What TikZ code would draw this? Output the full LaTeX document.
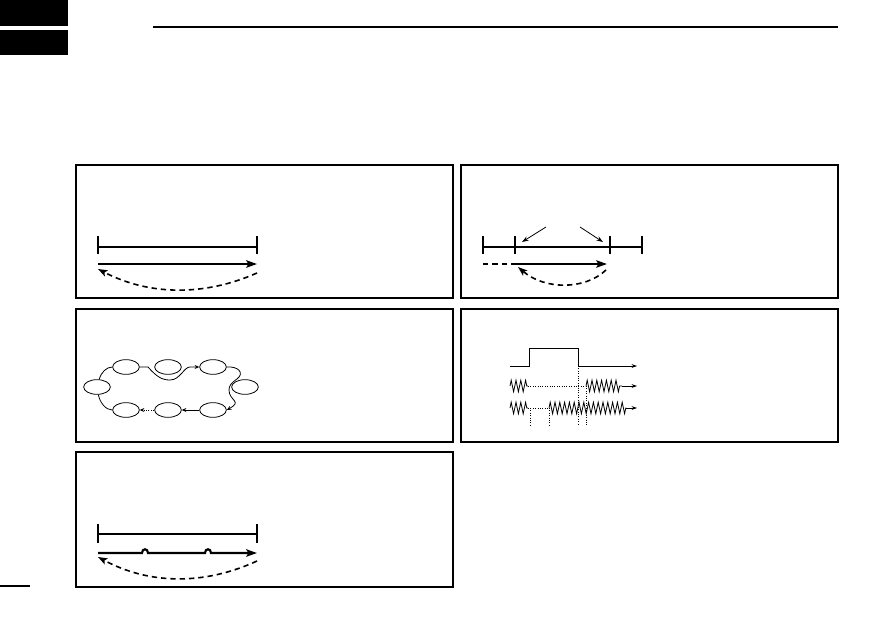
\documentclass[tikz,border=0pt]{standalone}
\usetikzlibrary{arrows.meta, shapes.geometric, decorations.pathmorphing}

\begin{document}
\begin{tikzpicture}[x=0.75pt, y=-0.75pt,
    frame/.style={draw=black, line width=0.8pt},
    bar/.style={line width=1.6pt},
    arr/.style={line width=1.6pt, -{Stealth[length=8pt, width=5.5pt, inset=1.5pt]}},
    back/.style={line width=1.2pt, dash pattern=on 4pt off 3pt,
                 -{Stealth[length=7pt, width=5pt, inset=1.5pt]}},
    pointer/.style={line width=0.6pt, -{Stealth[length=5pt, width=3.5pt]}},
    ch/.style={draw, ellipse, line width=0.6pt, minimum width=20pt,
               minimum height=11pt, inner sep=0pt},
    link/.style={line width=0.6pt},
    hop/.style={line width=0.6pt, -{Stealth[length=3.5pt, width=3pt]}},
    sig/.style={line width=0.6pt, -{Stealth[length=4pt, width=2.8pt]}},
    wave/.style={line width=0.6pt, decorate,
                 decoration={zigzag, segment length=3.6pt, amplitude=4.3pt}},
    dots/.style={line width=0.6pt, dash pattern=on 0.8pt off 1pt}
  ]
  \useasboundingbox (0,0) rectangle (893,629);

  % header marks
  \fill (0,0) rectangle (68,26);
  \fill (0,30) rectangle (68,55);
  \draw[line width=0.8pt] (153,27) -- (838,27);
  \draw[line width=0.8pt] (0,586) -- (30,586);

  % panel frames
  \foreach \x/\y/\w/\h in {76/165/453/298, 461/165/838/298,
                           76/309/453/442, 461/309/838/442,
                           76/452/453/587}
    \draw[frame] (\x,\y) rectangle (\w,\h);

  % panel 1
  \draw[bar] (98,247) -- (257,247);
  \foreach \x in {98,257}
    \draw[bar] (\x,236) -- (\x,254);
  \coordinate (s1) at (98,264);
  \coordinate (e1) at (257,264);
  \draw[arr] (s1) -- (e1);
  \coordinate (r1) at (257,273);
  \coordinate (q1) at (98,269);
  \draw[back] (r1) .. controls (205,296) and (150,296) .. (q1);

  % panel 2
  \draw[bar] (483,247) -- (642,247);
  \foreach \x in {483,515,642}
    \draw[line width=1pt] (\x,236) -- (\x,254);
  \draw[bar] (610,236) -- (610,254);
  \coordinate (m1) at (546,227);
  \coordinate (m2) at (580,227);
  \coordinate (n1) at (522,242);
  \coordinate (n2) at (603,242);
  \draw[pointer] (m1) -- (n1);
  \draw[pointer] (m2) -- (n2);
  \coordinate (s2) at (483,264);
  \coordinate (k2) at (515,264);
  \coordinate (e2) at (607,264);
  \draw[line width=1.2pt, dash pattern=on 4pt off 3pt] (s2) -- (k2);
  \draw[arr] (k2) -- (e2);
  \coordinate (r2) at (606,270);
  \coordinate (q2) at (518,267);
  \draw[back] (r2) .. controls (585,290) and (545,290) .. (q2);

  % panel 3
  \node[ch] (mL) at (97,387) {};
  \node[ch] (t1) at (126,367) {};
  \node[ch] (t2) at (168,367) {};
  \node[ch] (t3) at (213,367) {};
  \node[ch] (mR) at (245,387) {};
  \node[ch] (b3) at (213,410) {};
  \node[ch] (b2) at (168,410) {};
  \node[ch] (b1) at (126,410) {};
  \draw[link] (mL.75) .. controls (101,373) and (106,367) .. (t1.west);
  \draw[hop] (t1.east) -- (148,367)
    .. controls (157,377) and (162,380) .. (170,380)
    .. controls (180,380) and (184,367) .. (190,367) -- (t3.west);
  \draw[hop] (t3.east) .. controls (238,366) and (245,373) .. (237,379)
    .. controls (231,383) and (229,386) .. (229,390)
    .. controls (229,401) and (243,401) .. (b3.east);
  \draw[hop] (b3.west) -- (b2.east);
  \draw[hop, dots] (b2.west) -- (b1.east);
  \draw[link] (b1.west) .. controls (106,410) and (100,403) .. (mL.280);

  % panel 4
  \draw[sig] (510,366) -- (529,366) -- (529,348) -- (578,348)
    -- (578,366) -- (637,366);
  \draw[wave] (510,386) -- (528,386);
  \draw[dots] (528,386) -- (586,386);
  \draw[wave] (586,386) -- (622,386);
  \draw[sig] (622,386) -- (637,386);
  \draw[wave] (510,408) -- (528,408);
  \draw[dots] (528,408) -- (549,408);
  \draw[wave] (549,408) -- (626,408);
  \draw[sig] (626,408) -- (637,408);
  \foreach \x/\y in {578/366, 586/386, 530/408, 549/408}
    \draw[dots] (\x,\y) -- (\x,425);

  % panel 5
  \draw[bar] (98,534) -- (257,534);
  \foreach \x in {98,257}
    \draw[bar] (\x,524) -- (\x,543);
  \coordinate (s5) at (98,553);
  \coordinate (e5) at (257,553);
  \draw[arr] (s5) -- (142,553)
    .. controls (142,548) and (148,548) .. (148,553) -- (205,553)
    .. controls (205,548) and (211,548) .. (211,553) -- (e5);
  \coordinate (r5) at (257,561);
  \coordinate (q5) at (98,557);
  \draw[back] (r5) .. controls (205,585) and (150,585) .. (q5);
\end{tikzpicture}
\end{document}
